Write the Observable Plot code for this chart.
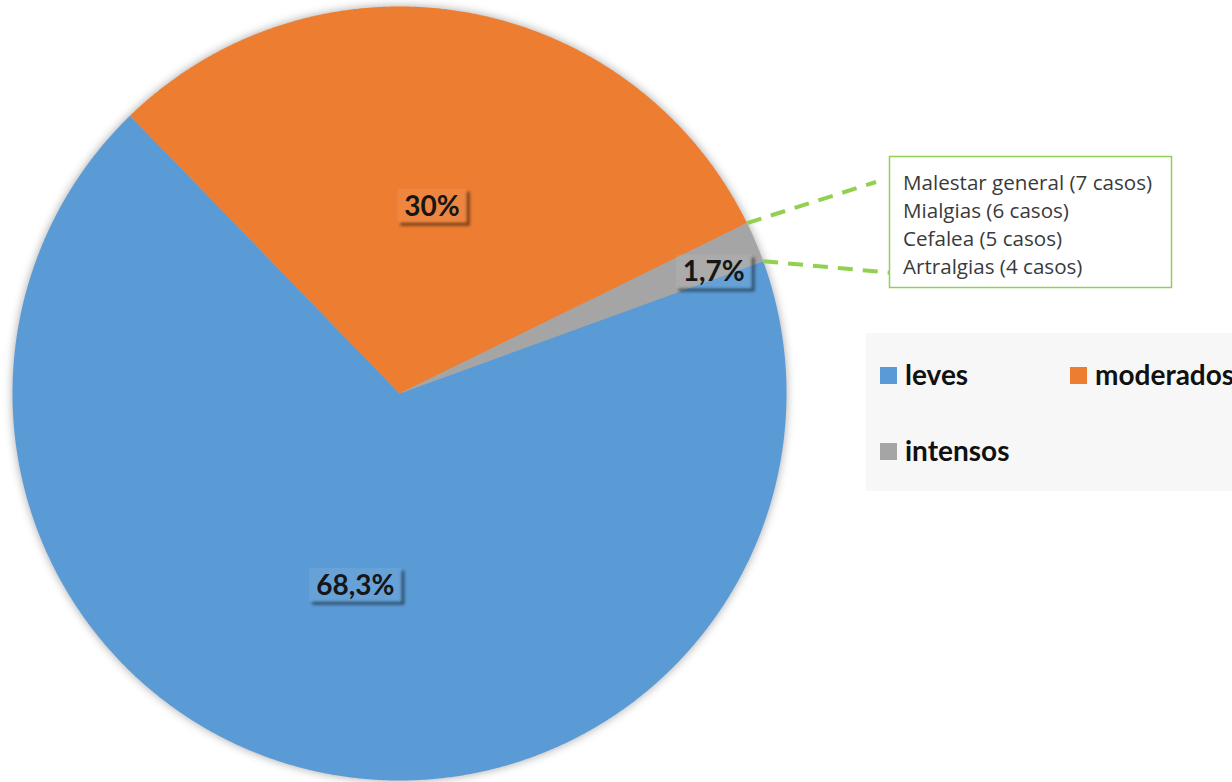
<!DOCTYPE html>
<html><head><meta charset="utf-8">
<script src="https://cdn.jsdelivr.net/npm/d3@7"></script>
<script src="https://cdn.jsdelivr.net/npm/@observablehq/plot@0.6"></script>
<style>
body{margin:0;background:#fff;overflow:hidden}
#wrap{position:relative;width:1232px;height:782px;overflow:hidden;font-family:Lato,"Open Sans",sans-serif}
#wrap svg{position:absolute;left:0;top:0}
.pie{filter:drop-shadow(0 0 5px rgba(0,0,0,0.35))}
</style></head><body>
<div id="wrap"></div>
<script>
// ---- data ----
const categories = ["leves", "moderados", "intensos"];
const percentages = [68.3, 30, 1.7];
const valueLabels = ["68,3%", "30%", "1,7%"];
const colors = ["#5b9bd5", "#ed7d31", "#a5a5a5"];
const symptoms = ["Malestar general (7 casos)", "Mialgias (6 casos)", "Cefalea (5 casos)", "Artralgias (4 casos)"];

// ---- layout ----
const W = 1232, H = 782, CX = 399, CY = 393, R = 387;
const START = 70; // first slice angle, degrees clockwise from 12 o'clock
const labelR = [0.51, 0.49, 0.87];
const labelTurn = [0, 0, 2];
const callout = {x: 889.5, y: 156.5, w: 282, h: 131};
const calloutEnds = [{dx: -14, dy: 25}, {dx: 3, dy: 116}];
const legendBox = {x: 866, y: 333, w: 380, h: 158};
const legendPos = [{x: 880, y: 367}, {x: 1070, y: 367}, {x: 880, y: 443}];

const px2x = d3.scaleLinear().domain([CX - R, CX + R]).range([-1, 1]);
const px2y = d3.scaleLinear().domain([CY + R, CY - R]).range([-1, 1]);

const arcs = d3.pie().sort(null).value(d => d)
  .startAngle(START * Math.PI / 180).endAngle((START + 360) * Math.PI / 180)(percentages);

const slicePts = [];
arcs.forEach((a, i) => {
  const cat = categories[i];
  slicePts.push({cat, x: 0, y: 0});
  const n = Math.max(4, Math.ceil((a.endAngle - a.startAngle) / (Math.PI / 720)));
  for (let k = 0; k <= n; k++) {
    const t = a.startAngle + (a.endAngle - a.startAngle) * k / n;
    slicePts.push({cat, x: Math.sin(t), y: Math.cos(t)});
  }
  slicePts.push({cat, x: 0, y: 0});
});

const labelData = arcs.map((a, i) => {
  const m = (a.startAngle + a.endAngle) / 2 + labelTurn[i] * Math.PI / 180;
  return {x: labelR[i] * Math.sin(m), y: labelR[i] * Math.cos(m), text: valueLabels[i]};
});

const g = arcs[2];
const leaders = [g.startAngle, g.endAngle].map((t, i) => ({
  x1: Math.sin(t), y1: Math.cos(t),
  x2: px2x(callout.x + calloutEnds[i].dx), y2: px2y(callout.y + calloutEnds[i].dy)
}));

const chart = Plot.plot({
  width: W, height: H,
  marginLeft: CX - R, marginRight: W - (CX + R), marginTop: CY - R, marginBottom: H - (CY + R),
  x: {domain: [-1, 1], axis: null},
  y: {domain: [-1, 1], axis: null},
  color: {domain: categories, range: colors},
  style: {background: "transparent", overflow: "visible"},
  marks: [
    Plot.line(slicePts, {x: "x", y: "y", z: "cat", fill: "cat", stroke: "none", className: "pie"}),
    Plot.link(leaders, {x1: "x1", y1: "y1", x2: "x2", y2: "y2", stroke: "#92d050", strokeWidth: 4, strokeDasharray: "15,10"}),
    Plot.text(labelData, {x: "x", y: "y", text: "text", fontSize: 28, fontWeight: "bold", fill: "#161616",
      fontFamily: "Lato, 'Open Sans', sans-serif", className: "pielabels"})
  ]
});
const wrap = document.getElementById("wrap");
wrap.appendChild(chart);

// boxes with shadow behind value labels
const ns = "http://www.w3.org/2000/svg";
const textG = chart.querySelector("g.pielabels");
const boxG = document.createElementNS(ns, "g");
textG.parentNode.insertBefore(boxG, textG);
const sr = chart.getBoundingClientRect();
textG.querySelectorAll("text").forEach(t => {
  const b = t.getBoundingClientRect();
  const x = b.left - sr.left - 7, y = b.top - sr.top + 1, w = b.width + 14, h = b.height;
  const o = 3;
  const p = document.createElementNS(ns, "path");
  p.setAttribute("d", `M${x+w},${y+o}H${x+w+o}V${y+h+o}H${x+o}V${y+h}H${x+w}Z`);
  p.setAttribute("fill", "rgba(0,0,0,0.5)");
  p.style.filter = "blur(1.5px)";
  boxG.appendChild(p);
  const r = document.createElementNS(ns, "rect");
  r.setAttribute("x", x); r.setAttribute("y", y); r.setAttribute("width", w); r.setAttribute("height", h);
  r.setAttribute("fill", "rgba(255,255,255,0.07)");
  boxG.appendChild(r);
});

// overlay: legend and callout
const ov = d3.select(wrap).append("svg").attr("width", W).attr("height", H).style("pointer-events", "none");
ov.append("rect").attr("x", callout.x).attr("y", callout.y).attr("width", callout.w).attr("height", callout.h)
  .attr("fill", "#fff").attr("stroke", "#92d050").attr("stroke-width", 1.5);
ov.selectAll("text.sym").data(symptoms).join("text").attr("class", "sym")
  .attr("x", callout.x + 13.5).attr("y", (d, i) => callout.y + 33.5 + i * 28)
  .attr("fill", "#3a3a3a").attr("font-size", 20.6).attr("font-family", "'Open Sans', Lato, sans-serif").text(d => d);

ov.append("rect").attr("x", legendBox.x).attr("y", legendBox.y).attr("width", legendBox.w).attr("height", legendBox.h).attr("fill", "#f7f7f7");
const li = ov.selectAll("g.li").data(categories).join("g").attr("class", "li")
  .attr("transform", (d, i) => `translate(${legendPos[i].x},${legendPos[i].y})`);
li.append("rect").attr("width", 17).attr("height", 17).attr("fill", (d, i) => colors[i]);
li.append("text").attr("x", 25).attr("y", 18).attr("font-size", 28).attr("font-weight", "bold")
  .attr("font-family", "Lato, 'Open Sans', sans-serif").attr("fill", "#111").text(d => d);
</script>
</body></html>
